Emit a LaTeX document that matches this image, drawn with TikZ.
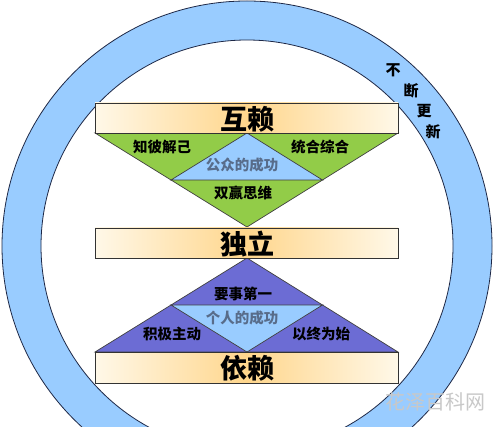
\documentclass[tikz,border=0pt]{standalone}
\usepackage{fontspec}
\newfontfamily\cjk{Noto Sans CJK SC}
\definecolor{ringblue}{RGB}{153,204,255}
\definecolor{lineblue}{RGB}{30,40,70}
\definecolor{leafgreen}{RGB}{146,204,72}
\definecolor{violet}{RGB}{108,108,212}
\definecolor{cream}{RGB}{255,248,232}
\definecolor{barorange}{RGB}{255,214,140}
\definecolor{mutedtext}{RGB}{88,108,138}
\definecolor{wmgray}{RGB}{200,200,200}
\tikzset{
  ringline/.style={draw=lineblue, line width=0.8pt},
  barbox/.style={draw=black!80, line width=0.8pt, left color=cream, right color=cream, middle color=barorange},
  tri/.style={draw=black!75, line width=0.7pt, line join=miter},
  title/.style={font=\cjk\bfseries\fontsize{27}{27}\selectfont, text=black, inner sep=0pt},
  lab/.style={font=\cjk\bfseries\fontsize{14.5}{14.5}\selectfont, text=black, inner sep=0pt},
  mid/.style={font=\cjk\bfseries\fontsize{14.5}{14.5}\selectfont, text=mutedtext, inner sep=0pt},
  vert/.style={font=\cjk\bfseries\fontsize{15}{15}\selectfont, text=black, inner sep=0pt},
  wm/.style={font=\cjk\fontsize{20}{20}\selectfont, text=wmgray, inner sep=0pt}
}
\begin{document}
\begin{tikzpicture}[x=1pt,y=-1pt]
\useasboundingbox (0,0) rectangle (500,427);
\clip (0,0) rectangle (500,427);
\fill[white] (0,0) rectangle (500,427);
% ring
\coordinate (c) at (247,246);
\fill[ringblue, even odd rule] (c) circle[radius=245] (c) circle[radius=206];
\draw[ringline] (c) circle[radius=245];
\draw[ringline] (c) circle[radius=206];
% coordinates
\coordinate (tl) at (95,133);
\coordinate (tr) at (398,133);
\coordinate (tb) at (247,227);
\coordinate (tml) at (171,180);
\coordinate (tmr) at (322.5,180);
\coordinate (tmt) at (247,133);
\coordinate (bl) at (95,352);
\coordinate (br) at (398,352);
\coordinate (bt) at (247,258);
\coordinate (bml) at (171,305);
\coordinate (bmr) at (322.5,305);
\coordinate (bmb) at (247,352);
% upper triangle
\fill[leafgreen] (tl) -- (tr) -- (tb) -- cycle;
\fill[ringblue] (tmt) -- (tml) -- (tmr) -- cycle;
\draw[tri] (tl) -- (tr) -- (tb) -- cycle;
\draw[tri] (tmt) -- (tml) -- (tmr) -- cycle;
% lower triangle
\fill[violet] (bl) -- (br) -- (bt) -- cycle;
\fill[ringblue] (bmb) -- (bml) -- (bmr) -- cycle;
\draw[tri] (bl) -- (br) -- (bt) -- cycle;
\draw[tri] (bmb) -- (bml) -- (bmr) -- cycle;
% bars
\path[barbox] (95,103) rectangle (398,133);
\path[barbox] (95,228) rectangle (398,258);
\path[barbox] (95,352) rectangle (398,383);
\node[title] (hulai) at (247,119) {互赖};
\node[title] (duli) at (247,244) {独立};
\node[title] (yilai) at (247,368) {依赖};
% labels
\node[lab] (zhibi) at (162,147) {知彼解己};
\node[lab] (tonghe) at (320,147) {统合综合};
\node[mid] (gongzhong) at (242,165) {公众的成功};
\node[lab] (shuangying) at (243,193) {双赢思维};
\node[lab] (yaoshi) at (243,294) {要事第一};
\node[mid] (geren) at (242,318) {个人的成功};
\node[lab] (jiji) at (172,334) {积极主动};
\node[lab] (yizhong) at (321,334) {以终为始};
% vertical ring text
\node[vert] (bu) at (393,70) {不};
\node[vert] (duan) at (411,91) {断};
\node[vert] (geng) at (424,111) {更};
\node[vert] (xin) at (433,132) {新};
% watermark
\node[wm] (wmark) at (435,402) {花泽百科网};
\end{tikzpicture}
\end{document}
